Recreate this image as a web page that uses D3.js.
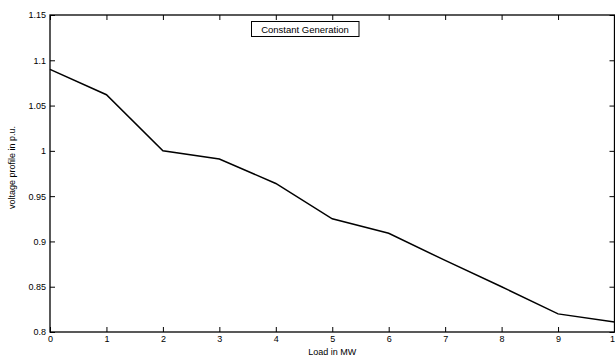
<!DOCTYPE html>
<html>
<head>
<meta charset="utf-8">
<script src="https://cdnjs.cloudflare.com/ajax/libs/d3/7.8.5/d3.min.js"></script>
<style>
    body { margin: 0; background: #fff; }
    svg text { font-family: "Liberation Sans", Arial, sans-serif; fill: #000; }
</style>
</head>
<body>
<svg id="chart" width="615" height="360"></svg>
<script>
    // load (MW) and voltage profile (p.u.)
    var loadMW = [0, 1, 2, 3, 4, 5, 6, 7, 8, 9, 10];
    var voltage = [1.09, 1.062, 1.0, 0.991, 0.964, 0.925, 0.909, 0.879, 0.850, 0.820, 0.811];
    var xTicks = [0, 1, 2, 3, 4, 5, 6, 7, 8, 9, 10];
    var yTicks = [0.8, 0.85, 0.9, 0.95, 1, 1.05, 1.1, 1.15];
    var legendText = "Constant Generation";

    var svg = d3.select("#chart");
    // note: "top" is taken by window.top, so plot edges get a prefix
    var pLeft = 50, pRight = 614.5, pTop = 15, pBottom = 332;

    var x = d3.scaleLinear().domain([0, 10]).range([pLeft, pRight]);
    var y = d3.scaleLinear().domain([0.8, 1.15]).range([pBottom, pTop]);

    // frame
    svg.append("rect")
        .attr("x", pLeft).attr("y", pTop)
        .attr("width", pRight - pLeft).attr("height", pBottom - pTop)
        .attr("fill", "none").attr("stroke", "#000").attr("stroke-width", 1.3);

    var fmt = function(d) { return String(d); };

    svg.append("g").attr("transform", "translate(0," + pBottom + ")")
        .call(d3.axisBottom(x).tickValues(xTicks).tickSize(-5).tickPadding(4).tickFormat(fmt));
    svg.append("g").attr("transform", "translate(0," + pTop + ")")
        .call(d3.axisTop(x).tickValues(xTicks).tickSize(-5).tickFormat(""));
    svg.append("g").attr("transform", "translate(" + pLeft + ",0)")
        .call(d3.axisLeft(y).tickValues(yTicks).tickSize(-5).tickPadding(4).tickFormat(fmt));
    svg.append("g").attr("transform", "translate(" + pRight + ",0)")
        .call(d3.axisRight(y).tickValues(yTicks).tickSize(-5).tickFormat(""));

    svg.selectAll(".domain").remove();
    svg.selectAll(".tick line").attr("stroke", "#000");
    svg.selectAll(".tick text").style("font-size", "9px");

    // the line
    var line = d3.line()
        .x(function(d, i) { return x(loadMW[i]); })
        .y(function(d) { return y(d); });
    svg.append("path")
        .datum(voltage)
        .attr("d", line)
        .attr("fill", "none")
        .attr("stroke", "#000")
        .attr("stroke-width", 1.5);

    // axis titles
    svg.append("text")
        .attr("x", (pLeft + pRight) / 2).attr("y", 355)
        .attr("text-anchor", "middle")
        .style("font-size", "9px")
        .text("Load in MW");
    svg.append("text")
        .attr("transform", "translate(15," + ((pTop + pBottom) / 2 - 6) + ") rotate(-90)")
        .attr("text-anchor", "middle")
        .style("font-size", "9px")
        .text("voltage profile in p.u.");

    // legend box
    var lg = svg.append("g");
    lg.append("rect")
        .attr("x", 251.5).attr("y", 21.5)
        .attr("width", 107.5).attr("height", 15)
        .attr("fill", "#fff").attr("stroke", "#000").attr("stroke-width", 1);
    lg.append("text")
        .attr("x", 305).attr("y", 33)
        .attr("text-anchor", "middle")
        .style("font-size", "9.5px")
        .text(legendText);
</script>
</body>
</html>
